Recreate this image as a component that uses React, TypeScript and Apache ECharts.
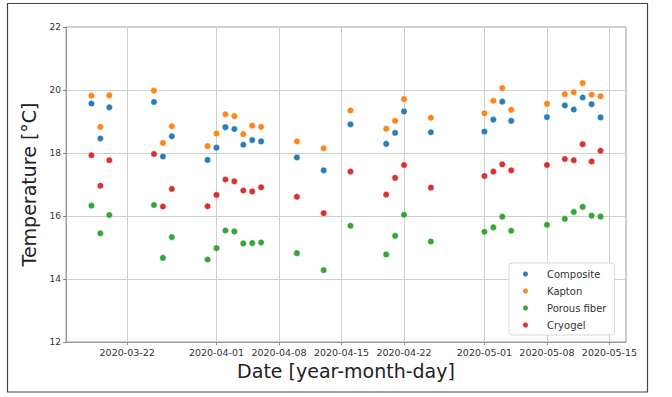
import React, { useEffect, useRef } from "react";
import * as echarts from "echarts";

const dates = [
  "2020-03-18", "2020-03-19", "2020-03-20", "2020-03-25", "2020-03-26", "2020-03-27",
  "2020-03-31", "2020-04-01", "2020-04-02", "2020-04-03", "2020-04-04", "2020-04-05",
  "2020-04-06", "2020-04-10", "2020-04-13", "2020-04-16", "2020-04-20", "2020-04-21",
  "2020-04-22", "2020-04-25", "2020-05-01", "2020-05-02", "2020-05-03", "2020-05-04",
  "2020-05-08", "2020-05-10", "2020-05-11", "2020-05-12", "2020-05-13", "2020-05-14",
];

const composite = [
  19.57, 18.46, 19.45, 19.62, 17.89, 18.53, 17.78, 18.17, 18.82, 18.76, 18.26, 18.41,
  18.37, 17.86, 17.45, 18.91, 18.29, 18.64, 19.32, 18.66, 18.68, 19.06, 19.63, 19.02,
  19.14, 19.51, 19.38, 19.76, 19.55, 19.13,
];
const kapton = [
  19.82, 18.83, 19.83, 19.98, 18.32, 18.85, 18.22, 18.62, 19.23, 19.17, 18.6, 18.87,
  18.83, 18.37, 18.15, 19.35, 18.77, 19.02, 19.71, 19.12, 19.26, 19.66, 20.06, 19.37,
  19.56, 19.87, 19.93, 20.22, 19.85, 19.8,
];
const porous = [
  16.33, 15.45, 16.03, 16.35, 14.67, 15.33, 14.62, 14.98, 15.54, 15.51, 15.13, 15.14,
  15.16, 14.82, 14.28, 15.69, 14.78, 15.37, 16.04, 15.19, 15.5, 15.64, 15.98, 15.53,
  15.72, 15.91, 16.13, 16.29, 16.01, 15.98,
];
const cryogel = [
  17.93, 16.96, 17.77, 17.97, 16.3, 16.86, 16.31, 16.67, 17.16, 17.1, 16.81, 16.78,
  16.91, 16.61, 16.09, 17.41, 16.68, 17.21, 17.62, 16.9, 17.27, 17.41, 17.64, 17.45,
  17.62, 17.81, 17.77, 18.28, 17.73, 18.07,
];

const seriesNames = ["Composite", "Kapton", "Porous fiber", "Cryogel"];
const seriesColors = ["#1f77b4", "#ff7f0e", "#2ca02c", "#d62728"];
const xTickDates = [
  "2020-03-22", "2020-04-01", "2020-04-08", "2020-04-15",
  "2020-04-22", "2020-05-01", "2020-05-08", "2020-05-15",
];
const yTicks = [12, 14, 16, 18, 20, 22];

const DAY = 86400000;
const ts = (s: string) => {
  const [y, m, d] = s.split("-").map(Number);
  return Date.UTC(y, m - 1, d);
};
const pad = (n: number) => (n < 10 ? "0" + n : "" + n);
const fmt = (v: number) => {
  const d = new Date(v);
  return d.getUTCFullYear() + "-" + pad(d.getUTCMonth() + 1) + "-" + pad(d.getUTCDate());
};

export default function App() {
  const ref = useRef<HTMLDivElement>(null);
  useEffect(() => {
    document.body.style.margin = "0";
    const chart = echarts.init(ref.current!, undefined, { renderer: "svg" });
    const allValues = [composite, kapton, porous, cryogel];
    const xTs = dates.map(ts);
    const xMin = ts("2020-03-18") - 2.85 * DAY;
    const xMax = ts("2020-05-14") + 2.85 * DAY;
    const tickTs = xTickDates.map(ts);
    const font = "DejaVu Sans";
    chart.setOption({
      animation: false,
      textStyle: { fontFamily: font },
      graphic: [
        {
          type: "rect",
          shape: { x: 7.5, y: 3.5, width: 640, height: 388.5 },
          style: { fill: "none", stroke: "#444", lineWidth: 1.2 },
          silent: true,
        },
      ],
      grid: {
        left: 66,
        right: 672 - 626,
        top: 27,
        bottom: 397 - 342,
        show: true,
        borderColor: "#9a9a9a",
        borderWidth: 1,
        backgroundColor: "transparent",
      },
      legend: {
        orient: "vertical",
        left: 509,
        top: 263,
        data: seriesNames,
        icon: "circle",
        itemWidth: 7,
        itemHeight: 7,
        itemGap: 5,
        padding: [5, 8, 4, 12],
        backgroundColor: "#fff",
        borderColor: "#d8d8d8",
        borderWidth: 1,
        borderRadius: 3,
        textStyle: {
          fontFamily: font,
          fontSize: 10,
          color: "#333",
          lineHeight: 12,
          padding: [0, 0, 0, 13],
        },
      },
      xAxis: {
        type: "value",
        min: xMin,
        max: xMax,
        name: "Date [year-month-day]",
        nameLocation: "middle",
        nameGap: 18,
        nameTextStyle: { fontFamily: font, fontSize: 19, color: "#222" },
        axisLine: { show: true, lineStyle: { color: "#9a9a9a", width: 1 } },
        axisTick: {
          show: true,
          length: 3,
          lineStyle: { color: "#888" },
          customValues: tickTs,
        },
        axisLabel: {
          customValues: tickTs,
          formatter: (v: number) => fmt(v),
          fontFamily: font,
          fontSize: 9.5,
          color: "#333",
          margin: 5,
          hideOverlap: false,
        },
        splitLine: { show: true, lineStyle: { color: "#d0d0d0", width: 1 } },
      },
      yAxis: {
        type: "value",
        min: 12,
        max: 22,
        interval: 2,
        name: "Temperature [°C]",
        nameLocation: "middle",
        nameGap: 22,
        nameTextStyle: { fontFamily: font, fontSize: 19, color: "#222" },
        axisLine: { show: true, lineStyle: { color: "#9a9a9a", width: 1 } },
        axisTick: { show: true, length: 3, lineStyle: { color: "#888" } },
        axisLabel: {
          fontFamily: font,
          fontSize: 9,
          color: "#333",
          margin: 5,
          formatter: (v: number) => (yTicks.includes(v) ? String(v) : ""),
        },
        splitLine: { show: true, lineStyle: { color: "#d0d0d0", width: 1 } },
      },
      series: seriesNames.map((name, i) => ({
        name,
        type: "scatter",
        symbolSize: 6.5,
        itemStyle: { color: seriesColors[i], borderColor: "#fff", borderWidth: 0.5, opacity: 0.95 },
        data: xTs.map((t, j) => [t, allValues[i][j]]),
      })),
    });
    return () => chart.dispose();
  }, []);
  return <div ref={ref} style={{ width: 672, height: 397 }} />;
}
